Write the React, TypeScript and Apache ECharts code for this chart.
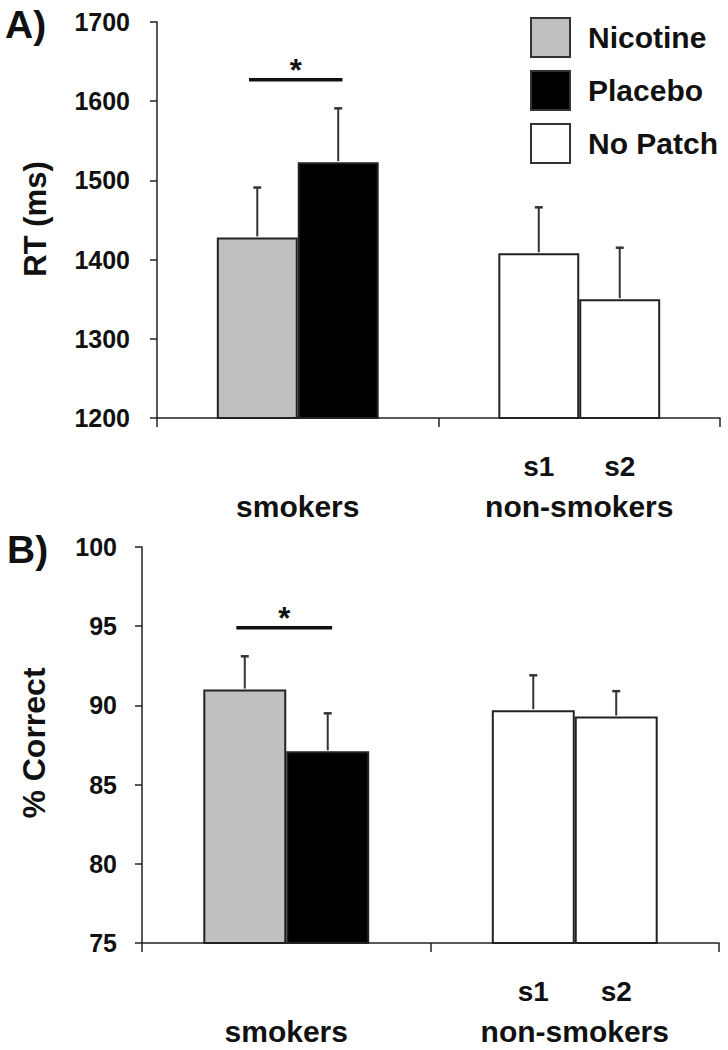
import React, { useEffect, useRef } from "react";
import * as echarts from "echarts";

// ---------- data ----------
const categories = ["smokers", "non-smokers"];
const conditionNames = ["Nicotine", "Placebo", "No Patch"];
const subLabels = ["s1", "s2"];

// Panel A: reaction time (ms)
const rtNicotine = [1428, null];
const rtPlacebo = [1523, null];
const rtNoPatchS1 = [null, 1408];
const rtNoPatchS2 = [null, 1350];
const rtNicotineErr = [63, null];
const rtPlaceboErr = [68, null];
const rtNoPatchS1Err = [null, 58];
const rtNoPatchS2Err = [null, 65];
const rtSignificance = [[0, 1627]];
const rtTicks = { min: 1200, max: 1700, interval: 100 };

// Panel B: % correct
const pcNicotine = [91.0, null];
const pcPlacebo = [87.1, null];
const pcNoPatchS1 = [null, 89.7];
const pcNoPatchS2 = [null, 89.3];
const pcNicotineErr = [2.1, null];
const pcPlaceboErr = [2.4, null];
const pcNoPatchS1Err = [null, 2.2];
const pcNoPatchS2Err = [null, 1.6];
const pcSignificance = [[0, 94.9]];
const pcTicks = { min: 75, max: 100, interval: 5 };

// ---------- styles ----------
const FONT = '"Liberation Sans", Arial, Helvetica, sans-serif';
const INK = "#111";
const GAP = 0.425;
const COLORS = { Nicotine: "#c0c0c0", Placebo: "#000000", "No Patch": "#ffffff" };

function barSeries(name: string, data: (number | null)[], stack: string, idx: number) {
  return {
    type: "bar",
    name,
    xAxisIndex: idx,
    yAxisIndex: idx,
    stack: stack + idx,
    data: data.map((v) => (v == null ? "-" : v)),
    barGap: "0%",
    barCategoryGap: GAP * 100 + "%",
    itemStyle: { color: (COLORS as any)[name], borderColor: "#222", borderWidth: 2 },
    emphasis: { disabled: true },
    z: 2,
  };
}

function errData(vals: (number | null)[], errs: (number | null)[], slot: number) {
  const out: number[][] = [];
  vals.forEach((v, i) => {
    if (v != null && errs[i] != null) out.push([i, v, errs[i] as number, slot]);
  });
  return out;
}

function errorSeries(idx: number, data: number[][]) {
  return {
    type: "custom",
    xAxisIndex: idx,
    yAxisIndex: idx,
    data,
    z: 5,
    silent: true,
    renderItem: (params: any, api: any) => {
      const cat = api.value(0);
      const v = api.value(1);
      const e = api.value(2);
      const slot = api.value(3);
      const c = api.coord([cat, v]);
      const bw = (api.size([1, 0])[0] * (1 - GAP)) / 2;
      const x = c[0] + (slot * bw) / 2;
      const top = api.coord([cat, v + e])[1];
      return {
        type: "group",
        children: [
          { type: "line", shape: { x1: x, y1: c[1] - 1, x2: x, y2: top }, style: { stroke: "#333", lineWidth: 2 } },
          { type: "line", shape: { x1: x - 4, y1: top, x2: x + 4, y2: top }, style: { stroke: "#333", lineWidth: 2.5 } },
        ],
      };
    },
  };
}

function sigSeries(idx: number, data: number[][]) {
  return {
    type: "custom",
    xAxisIndex: idx,
    yAxisIndex: idx,
    data,
    z: 6,
    silent: true,
    renderItem: (params: any, api: any) => {
      const c = api.coord([api.value(0), api.value(1)]);
      const half = api.size([1, 0])[0] * 0.166;
      const cx = c[0] - 2;
      return {
        type: "group",
        children: [
          { type: "line", shape: { x1: cx - half, y1: c[1], x2: cx + half, y2: c[1] }, style: { stroke: INK, lineWidth: 3.5 } },
          {
            type: "text",
            x: cx,
            y: c[1] - 9,
            style: { text: "*", fill: INK, fontSize: 31, fontWeight: "bold", fontFamily: FONT, align: "center", verticalAlign: "middle" },
          },
        ],
      };
    },
  };
}

function subLabelSeries(idx: number, base: number) {
  return {
    type: "custom",
    xAxisIndex: idx,
    yAxisIndex: idx,
    data: [[1, base]],
    z: 6,
    silent: true,
    clip: false,
    renderItem: (params: any, api: any) => {
      const c = api.coord([api.value(0), api.value(1)]);
      const bw = (api.size([1, 0])[0] * (1 - GAP)) / 2;
      return {
        type: "group",
        children: subLabels.map((t, i) => ({
          type: "text",
          x: c[0] + (i === 0 ? -bw / 2 : bw / 2),
          y: c[1] + 48,
          style: { text: t, fill: INK, fontSize: 28, fontWeight: "bold", fontFamily: FONT, align: "center", verticalAlign: "middle" },
        })),
      };
    },
  };
}

function xAxis(idx: number) {
  return {
    type: "category",
    gridIndex: idx,
    data: categories,
    axisLine: { lineStyle: { color: "#222", width: 1.5 } },
    axisTick: { show: true, length: 9, alignWithLabel: false, lineStyle: { color: "#222", width: 1.5 } },
    axisLabel: { color: INK, fontSize: 30, fontWeight: "bold", fontFamily: FONT, margin: 73, interval: 0 },
    splitLine: { show: false },
  };
}

function yAxis(idx: number, t: { min: number; max: number; interval: number }, margin: number) {
  return {
    type: "value",
    gridIndex: idx,
    min: t.min,
    max: t.max,
    interval: t.interval,
    axisLine: { show: true, lineStyle: { color: "#222", width: 1.5 } },
    axisTick: { show: true, length: 7, lineStyle: { color: "#222", width: 1.5 } },
    axisLabel: {
      color: INK,
      fontSize: 25,
      fontWeight: "bold",
      fontFamily: FONT,
      margin,
      showMinLabel: true,
      showMaxLabel: true,
      formatter: (v: number) => String(v),
    },
    splitLine: { show: false },
  };
}

export default function App() {
  const ref = useRef<HTMLDivElement>(null);
  useEffect(() => {
    if (!ref.current) return;
    const chart = echarts.init(ref.current, null, { renderer: "svg" });
    chart.setOption({
      animation: false,
      backgroundColor: "#ffffff",
      textStyle: { fontFamily: FONT },
      grid: [
        { left: 157, top: 22, width: 563, height: 396 },
        { left: 142, top: 547, width: 577, height: 396 },
      ],
      xAxis: [xAxis(0), xAxis(1)],
      yAxis: [yAxis(0, rtTicks, 27), yAxis(1, pcTicks, 25)],
      legend: {
        data: conditionNames,
        orient: "vertical",
        left: 525,
        top: 12,
        itemWidth: 39,
        itemHeight: 39,
        itemGap: 12,
        icon: "rect",
        selectedMode: false,
        itemStyle: { borderColor: "#333", borderWidth: 2 },
        textStyle: { color: INK, fontSize: 30, fontWeight: "bold", fontFamily: FONT, padding: [0, 0, 0, 13] },
      },
      graphic: [
        { type: "text", x: 5, y: 24, style: { text: "A)", fill: INK, fontSize: 39, fontWeight: "bold", fontFamily: FONT, verticalAlign: "middle" } },
        { type: "text", x: 7, y: 549, style: { text: "B)", fill: INK, fontSize: 39, fontWeight: "bold", fontFamily: FONT, verticalAlign: "middle" } },
        {
          type: "text", x: 35, y: 219, rotation: Math.PI / 2,
          style: { text: "RT (ms)", fill: INK, fontSize: 31, fontWeight: "bold", fontFamily: FONT, align: "center", verticalAlign: "middle" },
        },
        {
          type: "text", x: 34, y: 743, rotation: Math.PI / 2,
          style: { text: "% Correct", fill: INK, fontSize: 32, fontWeight: "bold", fontFamily: FONT, align: "center", verticalAlign: "middle" },
        },
      ],
      series: [
        barSeries("Nicotine", rtNicotine, "L", 0),
        barSeries("Placebo", rtPlacebo, "R", 0),
        barSeries("No Patch", rtNoPatchS1, "L", 0),
        barSeries("No Patch", rtNoPatchS2, "R", 0),
        errorSeries(0, [
          ...errData(rtNicotine, rtNicotineErr, -1),
          ...errData(rtPlacebo, rtPlaceboErr, 1),
          ...errData(rtNoPatchS1, rtNoPatchS1Err, -1),
          ...errData(rtNoPatchS2, rtNoPatchS2Err, 1),
        ]),
        sigSeries(0, rtSignificance),
        subLabelSeries(0, rtTicks.min),
        barSeries("Nicotine", pcNicotine, "L", 1),
        barSeries("Placebo", pcPlacebo, "R", 1),
        barSeries("No Patch", pcNoPatchS1, "L", 1),
        barSeries("No Patch", pcNoPatchS2, "R", 1),
        errorSeries(1, [
          ...errData(pcNicotine, pcNicotineErr, -1),
          ...errData(pcPlacebo, pcPlaceboErr, 1),
          ...errData(pcNoPatchS1, pcNoPatchS1Err, -1),
          ...errData(pcNoPatchS2, pcNoPatchS2Err, 1),
        ]),
        sigSeries(1, pcSignificance),
        subLabelSeries(1, pcTicks.min),
      ],
    });
    return () => chart.dispose();
  }, []);
  return (
    <div
      ref={ref}
      style={{ position: "absolute", left: 0, top: 0, width: 728, height: 1050, background: "#fff" }}
    />
  );
}
